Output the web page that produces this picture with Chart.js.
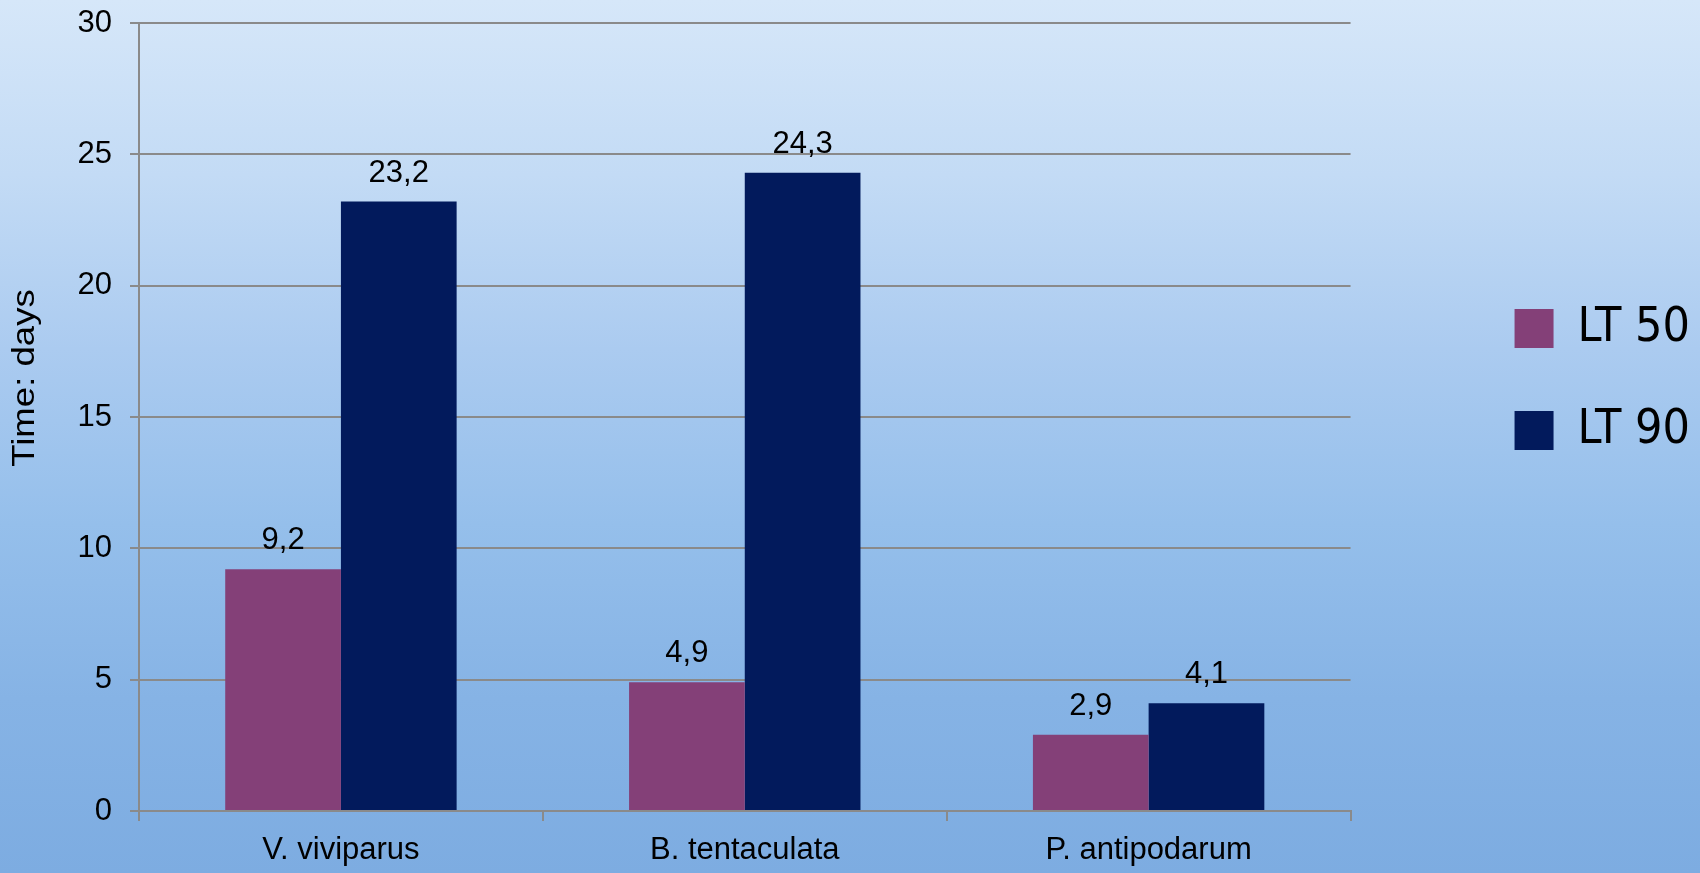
<!DOCTYPE html>
<html>
<head>
<meta charset="utf-8">
<title>LT 50 / LT 90</title>
<script src="https://cdn.jsdelivr.net/npm/chart.js@4/dist/chart.umd.min.js"></script>
<style>
  html, body { margin: 0; padding: 0; }
  body {
    width: 1700px;
    height: 873px;
    overflow: hidden;
    background: linear-gradient(180deg, #d6e7f9 0%, #c3dbf5 20%, #abcbf0 40%, #95bfeb 60%, #86b3e5 80%, #7dace1 100%);
  }
  #wrap { position: relative; width: 1700px; height: 873px; }
</style>
</head>
<body>
<div id="wrap"><canvas id="chart"></canvas></div>
<script>
const categories = ["V. viviparus", "B. tentaculata", "P. antipodarum"];
const seriesNames = ["LT 50", "LT 90"];
const lt50 = [9.2, 4.9, 2.9];
const lt90 = [23.2, 24.3, 4.1];
const yMin = 0;
const yMax = 30;
const yStep = 5;
const yTitle = "Time: days";

const colors = ["#844078", "#021a5c"];
const gridColor = "#8a8a8a";
const tickFont = { family: "'Liberation Sans', Arial, sans-serif", size: 31 };

// value labels above each bar, decimal comma like the original
const valueLabels = {
    id: "valueLabels",
    afterDatasetsDraw(chart) {
        const ctx = chart.ctx;
        ctx.save();
        ctx.font = "31px 'Liberation Sans', Arial, sans-serif";
        ctx.fillStyle = "#000";
        ctx.textAlign = "center";
        ctx.textBaseline = "alphabetic";
        chart.data.datasets.forEach((ds, i) => {
            chart.getDatasetMeta(i).data.forEach((bar, j) => {
                const txt = ds.data[j].toFixed(1).replace(".", ",");
                ctx.fillText(txt, bar.x, bar.y - 20);
            });
        });
        ctx.restore();
    }
};

// rotated axis title, sits a bit above the axis middle in the original
// (the original text is stretched along its length, hence the scale)
const sideTitle = {
    id: "sideTitle",
    afterDraw(chart) {
        const ctx = chart.ctx;
        ctx.save();
        ctx.translate(25, 378);
        ctx.rotate(-Math.PI / 2);
        ctx.scale(1.18, 1);
        ctx.font = "31px 'Liberation Sans', Arial, sans-serif";
        ctx.fillStyle = "#000";
        ctx.textAlign = "center";
        ctx.textBaseline = "middle";
        ctx.fillText(yTitle, 0, 0);
        ctx.restore();
    }
};

new Chart(document.getElementById("chart"), {
    type: "bar",
    data: {
        labels: categories,
        datasets: [
            { label: seriesNames[0], data: lt50, backgroundColor: colors[0] },
            { label: seriesNames[1], data: lt90, backgroundColor: colors[1] }
        ]
    },
    options: {
        responsive: true,
        maintainAspectRatio: false,
        animation: false,
        categoryPercentage: 0.573,
        barPercentage: 1,
        layout: { padding: { top: 23, left: 0, right: 0, bottom: 0 } },
        plugins: {
            tooltip: { enabled: false },
            legend: {
                position: "right",
                align: "start",
                title: {
                    display: true,
                    text: " ",
                    font: { size: 10, lineHeight: 1 },
                    padding: { top: 0, bottom: 217.5 }
                },
                labels: {
                    boxWidth: 39,
                    boxHeight: 39,
                    padding: 54,
                    color: "#000",
                    font: { family: "'DejaVu Sans Condensed', 'DejaVu Sans', sans-serif", size: 48 }
                }
            }
        },
        scales: {
            x: {
                grid: { drawOnChartArea: false, drawTicks: true, tickLength: 10, color: gridColor, lineWidth: 2 },
                border: { display: true, color: gridColor, width: 2 },
                ticks: { color: "#000", font: tickFont, padding: 11, maxRotation: 0 },
                afterFit(s) { s.height = 62; }
            },
            y: {
                min: yMin,
                max: yMax,
                ticks: { stepSize: yStep, color: "#000", font: tickFont, padding: 18 },
                grid: { color: gridColor, lineWidth: 2, tickLength: 9 },
                border: { display: true, color: gridColor, width: 2 },
                afterFit(s) {
                    s.width = 139;
                    s.paddingTop = 0;
                    s.paddingBottom = 0;
                }
            },
            pad: {
                type: "linear",
                position: "right",
                grid: { display: false },
                ticks: { display: false },
                border: { display: false },
                afterFit(s) {
                    s.width = 110;
                    s.paddingTop = 0;
                    s.paddingBottom = 0;
                }
            }
        }
    },
    plugins: [valueLabels, sideTitle]
});
</script>
</body>
</html>
